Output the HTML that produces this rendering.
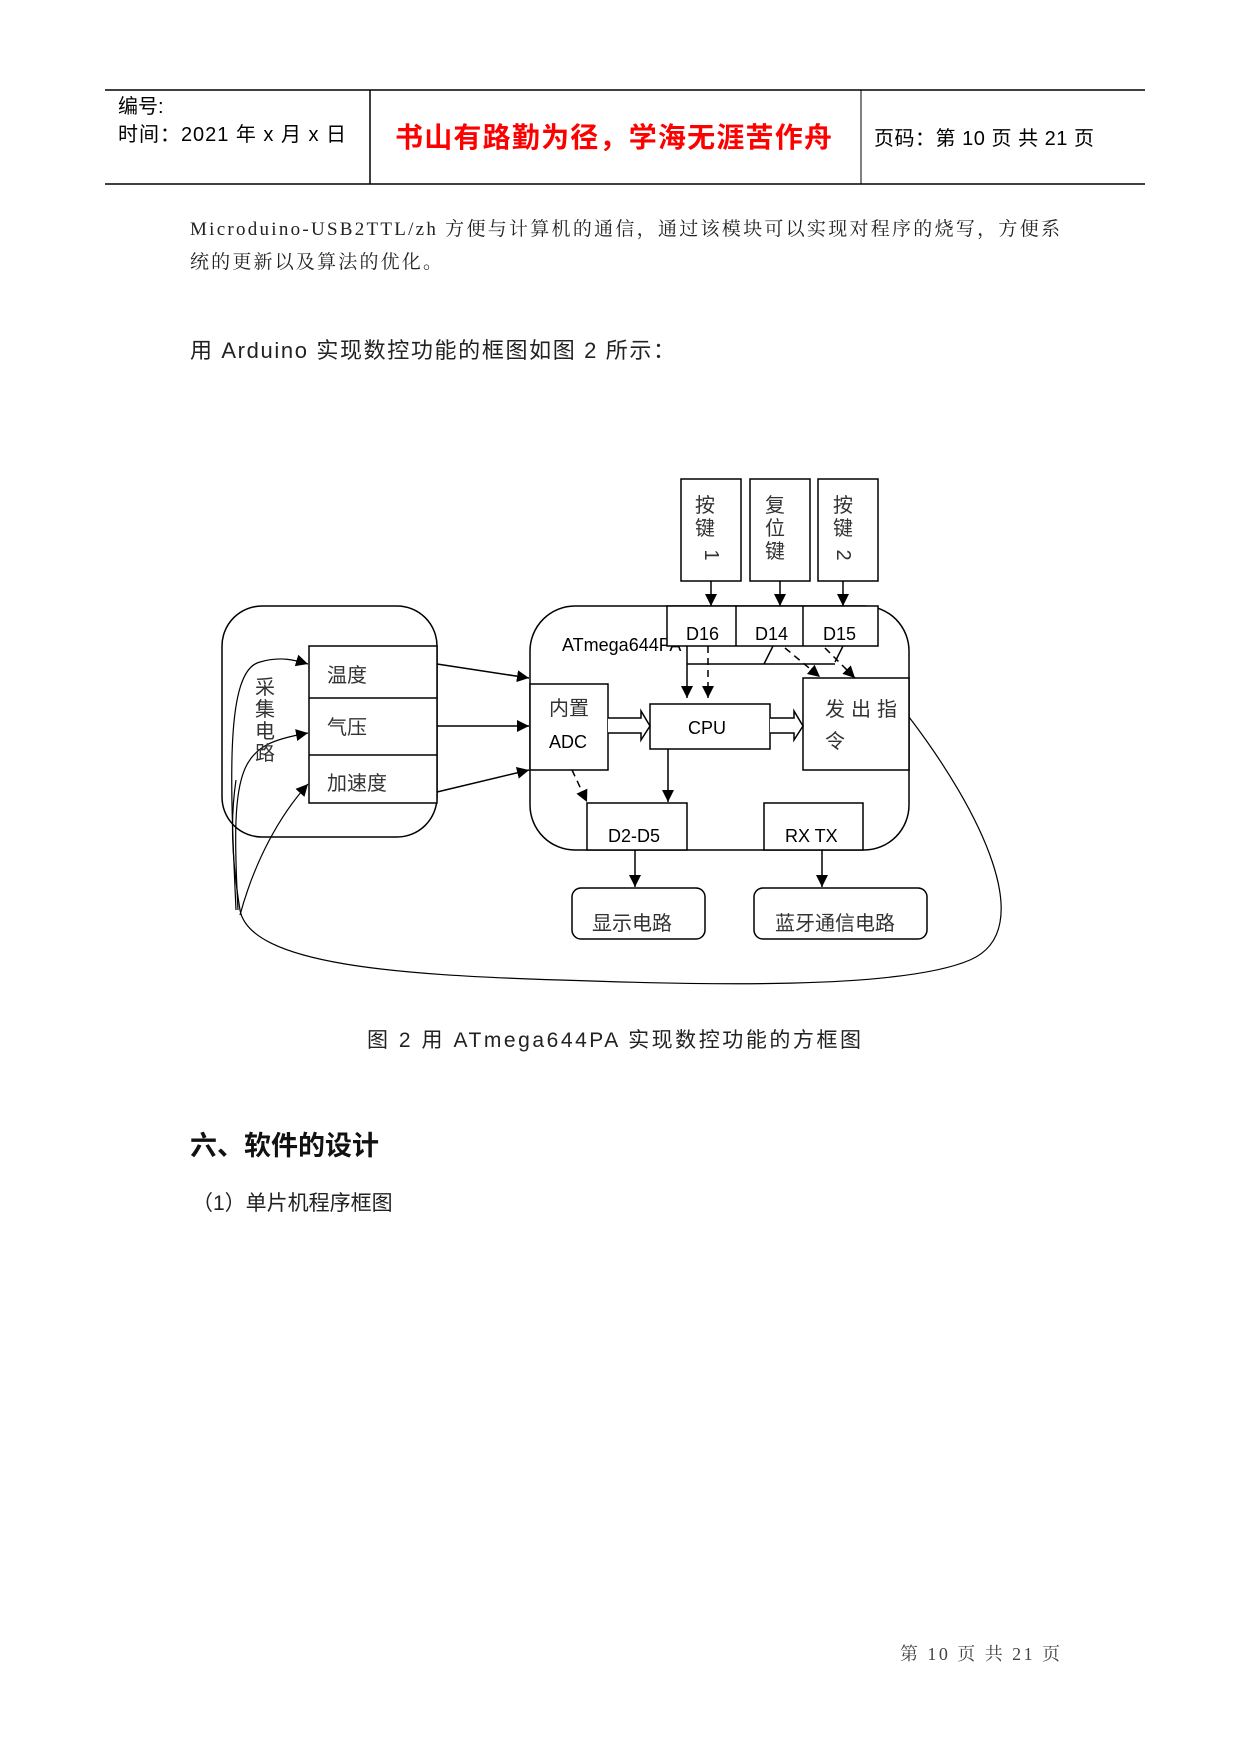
<!DOCTYPE html>
<html><head><meta charset="utf-8"><style>
html,body{margin:0;padding:0;background:#fff;}
body{width:1241px;height:1754px;position:relative;overflow:hidden;font-family:"Liberation Sans","Noto Sans CJK SC",sans-serif;}
svg{position:absolute;left:0;top:0;}
text{font-family:"Liberation Sans","Noto Sans CJK SC",sans-serif;}
.s{font-family:"Liberation Serif","Noto Serif CJK SC",serif;}
</style></head><body>
<svg width="1241" height="1754" viewBox="0 0 1241 1754">
<defs>
<marker id="b" viewBox="0 0 10 10" refX="10" refY="5" markerWidth="12" markerHeight="12" orient="auto" markerUnits="userSpaceOnUse"><path d="M0,0 L10,5 L0,10 z" fill="#000"/></marker>
</defs>
<!-- header -->
<line x1="105" y1="90" x2="1145" y2="90" stroke="#000" stroke-width="1.5"/>
<line x1="105" y1="184" x2="1145" y2="184" stroke="#000" stroke-width="1.5"/>
<line x1="370" y1="90" x2="370" y2="184" stroke="#000" stroke-width="1.5"/>
<line x1="861" y1="90" x2="861" y2="184" stroke="#000" stroke-width="1"/>
<text x="118" y="113" font-size="20">编号:</text>
<text x="118" y="141" font-size="20" textLength="228">时间：2021 年 x 月 x 日</text>
<text x="395" y="147" font-size="28" fill="#f00" font-weight="bold" textLength="437">书山有路勤为径，学海无涯苦作舟</text>
<text x="874" y="145" font-size="20" textLength="220">页码：第 10 页  共 21 页</text>
<!-- body text -->
<text class="s" x="190" y="235" font-size="19" fill="#222" textLength="870">Microduino-USB2TTL/zh 方便与计算机的通信，通过该模块可以实现对程序的烧写，方便系</text>
<text class="s" x="190" y="268" font-size="19" fill="#222" textLength="252">统的更新以及算法的优化。</text>
<text x="190" y="358" font-size="22" fill="#222" textLength="485">用 Arduino 实现数控功能的框图如图 2 所示：</text>

<text x="562" y="651" font-size="18">ATmega644PA</text>
<g stroke="#000" fill="none" stroke-width="1.5">
<!-- buttons -->
<rect x="681" y="479" width="60" height="102"/>
<rect x="750" y="479" width="60" height="102"/>
<rect x="818" y="479" width="60" height="102"/>
<line x1="711" y1="581" x2="711" y2="606" marker-end="url(#b)"/>
<line x1="780" y1="581" x2="780" y2="606" marker-end="url(#b)"/>
<line x1="843" y1="581" x2="843" y2="606" marker-end="url(#b)"/>
<!-- ATmega -->
<rect x="530" y="606" width="379" height="244" rx="45"/>
<rect x="667" y="606" width="211" height="40" fill="#fff"/>
<line x1="736" y1="606" x2="736" y2="646"/>
<line x1="803" y1="606" x2="803" y2="646"/>
<rect x="530" y="684" width="78" height="86" fill="#fff"/>
<rect x="650" y="704" width="120" height="45" fill="#fff"/>
<rect x="803" y="678" width="106" height="92" fill="#fff"/>
<rect x="587" y="803" width="100" height="47" fill="#fff"/>
<rect x="764" y="803" width="99" height="47" fill="#fff"/>
<rect x="572" y="888" width="133" height="51" rx="9"/>
<rect x="754" y="888" width="173" height="51" rx="9"/>
<!-- internal lines -->
<line x1="687" y1="646" x2="687" y2="698" marker-end="url(#b)"/>
<line x1="708" y1="646" x2="708" y2="698" stroke-dasharray="7,5" marker-end="url(#b)"/>
<line x1="687" y1="664" x2="835" y2="664"/>
<line x1="773" y1="646" x2="764" y2="664"/>
<line x1="843" y1="646" x2="835" y2="662"/>
<line x1="785" y1="648" x2="820" y2="677" stroke-dasharray="7,5" marker-end="url(#b)"/>
<line x1="825" y1="648" x2="855" y2="678" stroke-dasharray="7,5" marker-end="url(#b)"/>
<line x1="668" y1="749" x2="668" y2="802" marker-end="url(#b)"/>
<line x1="572" y1="770" x2="587" y2="802" stroke-dasharray="7,5" marker-end="url(#b)"/>
<line x1="635" y1="850" x2="635" y2="887" marker-end="url(#b)"/>
<line x1="822" y1="850" x2="822" y2="887" marker-end="url(#b)"/>
<!-- hollow arrows -->
<path d="M608,718 H641 V711 L650,726 L641,740 V733 H608" fill="#fff"/>
<path d="M770,718 H794 V711 L803,726 L794,740 V733 H770" fill="#fff"/>
<!-- left box -->
<rect x="222" y="606" width="215" height="231" rx="40"/>
<rect x="309" y="646" width="128" height="157" fill="#fff"/>
<line x1="309" y1="698" x2="437" y2="698"/>
<line x1="309" y1="755" x2="437" y2="755"/>
<line x1="437" y1="664" x2="529" y2="678" marker-end="url(#b)"/>
<line x1="437" y1="726" x2="529" y2="726" marker-end="url(#b)"/>
<line x1="437" y1="792" x2="529" y2="770" marker-end="url(#b)"/>
<!-- feedback loop -->
<path d="M909,717 C980,810 1040,930 970,960 C900,990 700,985 560,980 C400,975 250,965 240,910 C232,860 230,820 236,780" stroke-width="1.2"/>
<path d="M236,910 C230,780 225,670 260,662 C280,656 295,660 308,664" stroke-width="1.2" marker-end="url(#b)"/>
<path d="M238,910 C230,760 240,745 308,733" stroke-width="1.2" marker-end="url(#b)"/>
<path d="M240,915 C255,860 280,815 308,784" stroke-width="1.2" marker-end="url(#b)"/>
</g>
<g font-size="20" fill="#333">
<text x="705" y="512" text-anchor="middle">按</text><text x="705" y="535" text-anchor="middle">键</text>
<text x="711" y="561" text-anchor="middle" transform="rotate(90 711 555)">1</text>
<text x="775" y="512" text-anchor="middle">复</text><text x="775" y="535" text-anchor="middle">位</text><text x="775" y="558" text-anchor="middle">键</text>
<text x="843" y="512" text-anchor="middle">按</text><text x="843" y="535" text-anchor="middle">键</text>
<text x="843" y="561" text-anchor="middle" transform="rotate(90 843 555)">2</text>
<text x="265" y="694" text-anchor="middle">采</text><text x="265" y="716" text-anchor="middle">集</text><text x="265" y="738" text-anchor="middle">电</text><text x="265" y="760" text-anchor="middle">路</text>
<text x="327" y="682">温度</text><text x="327" y="734">气压</text><text x="327" y="790">加速度</text>
<text x="549" y="715">内置</text>
<text x="825" y="716" letter-spacing="6">发出指</text><text x="825" y="748">令</text>
<text x="592" y="930">显示电路</text><text x="775" y="930">蓝牙通信电路</text>
</g>
<g font-size="18" fill="#000">
<text x="686" y="640">D16</text><text x="755" y="640">D14</text><text x="823" y="640">D15</text>
<text x="549" y="748">ADC</text>
<text x="688" y="734">CPU</text>
<text x="608" y="842">D2-D5</text><text x="785" y="842">RX TX</text>
</g>
<text x="367" y="1047" font-size="21" fill="#222" textLength="494">图 2  用 ATmega644PA 实现数控功能的方框图</text>
<text x="190" y="1155" font-size="27" font-weight="bold" fill="#111">六、软件的设计</text>
<text x="192" y="1210" font-size="21" fill="#222">（1）单片机程序框图</text>
<text class="s" x="900" y="1660" font-size="18" fill="#444" textLength="160">第  10  页  共  21  页</text>
</svg>
</body></html>
